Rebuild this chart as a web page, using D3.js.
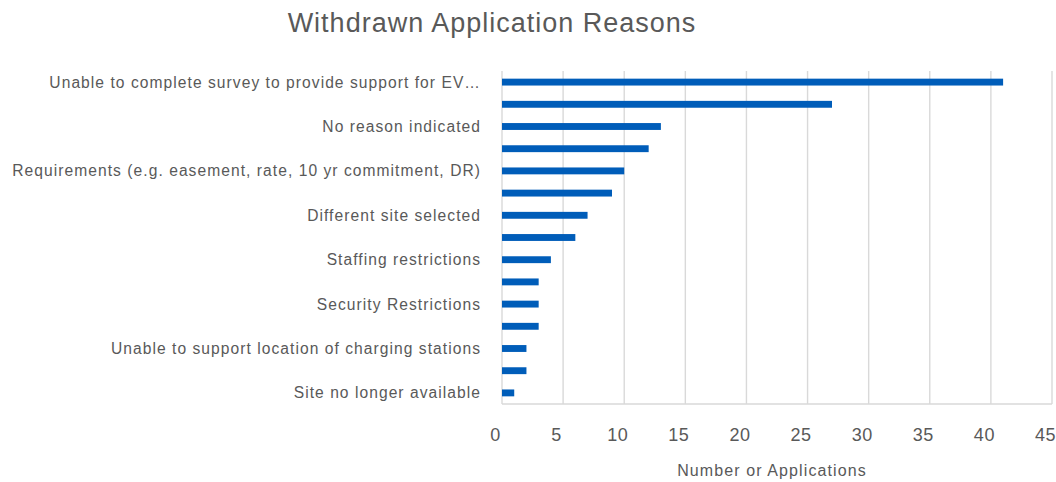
<!DOCTYPE html>
<html>
<head>
<meta charset="utf-8">
<script src="https://cdn.jsdelivr.net/npm/d3@7"></script>
<style>
  html, body { margin: 0; padding: 0; background: #fff; }
  svg { display: block; font-family: "Liberation Sans", Arial, sans-serif; }
</style>
</head>
<body>
<svg id="chart" width="1056" height="482"></svg>
<script>
// Withdrawal reasons, top to bottom; blank entries are rows whose label is skipped on the axis
const categories = [
  "Unable to complete survey to provide support for EV…",
  "",
  "No reason indicated",
  "",
  "Requirements (e.g. easement, rate, 10 yr commitment, DR)",
  "",
  "Different site selected",
  "",
  "Staffing restrictions",
  "",
  "Security Restrictions",
  "",
  "Unable to support location of charging stations",
  "",
  "Site no longer available"
];
const counts = [41, 27, 13, 12, 10, 9, 7, 6, 4, 3, 3, 3, 2, 2, 1];
const xTicks = [0, 5, 10, 15, 20, 25, 30, 35, 40, 45];

const titleText = "Withdrawn Application Reasons";
const xAxisTitle = "Number or Applications";

const svg = d3.select("#chart");
const margin = { left: 502, right: 4, top: 71, bottom: 78 };
const W = 1056, H = 482;
const plotH = H - margin.top - margin.bottom;

const x = d3.scaleLinear().domain([0, 45]).range([0, 550]);
const y = d3.scaleBand().domain(d3.range(categories.length)).range([0, plotH]).paddingInner(0.69).paddingOuter(0.345);

const g = svg.append("g").attr("transform", `translate(${margin.left},${margin.top})`);

// vertical gridlines
g.append("g")
  .selectAll("line")
  .data(xTicks)
  .join("line")
  .attr("x1", d => x(d)).attr("x2", d => x(d))
  .attr("y1", 0).attr("y2", plotH)
  .attr("stroke", "#d9d9d9")
  .attr("stroke-width", 1.4);

// baseline along the bottom
g.append("line")
  .attr("x1", 0).attr("x2", x(45))
  .attr("y1", plotH).attr("y2", plotH)
  .attr("stroke", "#d9d9d9")
  .attr("stroke-width", 1.4);

// bars
g.append("g")
  .selectAll("rect")
  .data(counts)
  .join("rect")
  .attr("x", x(0))
  .attr("y", (d, i) => y(i))
  .attr("width", d => x(d) - x(0))
  .attr("height", y.bandwidth())
  .attr("fill", "#005DB9");

// category labels
const yAxis = d3.axisLeft(y).tickSize(0).tickPadding(0).tickFormat(i => categories[i]);
const yG = g.append("g").attr("transform", "translate(-21,0)").call(yAxis);
yG.select(".domain").remove();
yG.selectAll("text")
  .attr("fill", "#595959")
  .style("font-size", "15.6px")
  .style("letter-spacing", "1.05px")
  .attr("dy", "0.35em");

// x tick labels
const xAxis = d3.axisBottom(x).tickValues(xTicks).tickSize(0).tickPadding(0);
const xG = g.append("g").attr("transform", `translate(-7,${plotH + 24})`).call(xAxis);
xG.select(".domain").remove();
xG.selectAll("text")
  .attr("fill", "#595959")
  .style("font-size", "18px")
  .style("letter-spacing", "0.5px")
  .attr("dy", "0.71em");

// axis title
svg.append("text")
  .attr("x", 772).attr("y", 476)
  .attr("text-anchor", "middle")
  .attr("fill", "#595959")
  .style("font-size", "16px")
  .style("letter-spacing", "1.1px")
  .text(xAxisTitle);

// chart title
svg.append("text")
  .attr("x", 492).attr("y", 32)
  .attr("text-anchor", "middle")
  .attr("fill", "#595959")
  .style("font-size", "27px")
  .style("letter-spacing", "1px")
  .text(titleText);
</script>
</body>
</html>
